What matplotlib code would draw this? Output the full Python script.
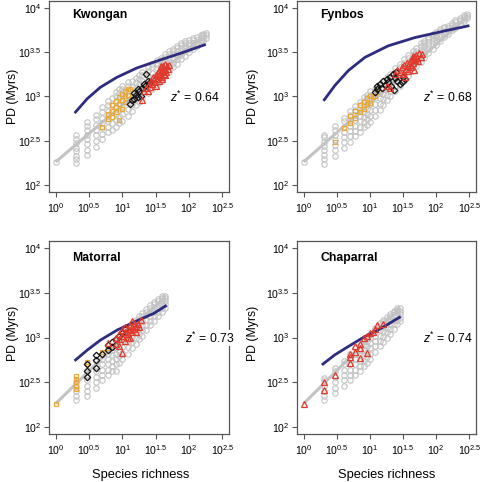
import numpy as np
import matplotlib.pyplot as plt

plt.rcParams['font.family'] = ['Liberation Sans', 'DejaVu Sans']
plt.rcParams['mathtext.fontset'] = 'custom'
plt.rcParams['mathtext.rm'] = 'Liberation Sans'
plt.rcParams['mathtext.it'] = 'Liberation Sans:italic'

# all PD values are log10(PD in Myrs)

# ---- Kwongan
kw_gray_s = [1, 2, 3, 4, 5, 6, 7, 8, 9, 10, 12, 14, 16, 18, 20, 24, 28, 33, 38, 44,
             50, 58, 66, 76, 88, 100, 115, 130, 150, 165, 178]
kw_gray_pd = [[2.26],
              [2.25, 2.29, 2.33, 2.38, 2.42, 2.47, 2.52, 2.56],
              [2.34, 2.40, 2.46, 2.52, 2.57, 2.62, 2.67, 2.71],
              [2.43, 2.50, 2.56, 2.62, 2.68, 2.74, 2.79],
              [2.52, 2.58, 2.64, 2.70, 2.76, 2.82, 2.88],
              [2.60, 2.66, 2.72, 2.78, 2.84, 2.90, 2.95],
              [2.62, 2.70, 2.77, 2.84, 2.91, 2.98],
              [2.66, 2.73, 2.80, 2.87, 2.94, 3.00, 3.05],
              [2.70, 2.78, 2.85, 2.92, 2.98, 3.04, 3.08],
              [2.72, 2.80, 2.88, 2.95, 3.02, 3.08, 3.12],
              [2.78, 2.86, 2.93, 3.00, 3.06, 3.12, 3.16],
              [2.84, 2.92, 2.99, 3.05, 3.11, 3.17],
              [2.90, 2.97, 3.04, 3.10, 3.16, 3.21],
              [2.94, 3.01, 3.08, 3.14, 3.20, 3.24],
              [2.98, 3.05, 3.12, 3.18, 3.24, 3.28],
              [3.04, 3.11, 3.17, 3.23, 3.29, 3.33],
              [3.08, 3.15, 3.21, 3.27, 3.33, 3.37],
              [3.13, 3.20, 3.26, 3.32, 3.37, 3.41],
              [3.18, 3.24, 3.30, 3.36, 3.41, 3.44],
              [3.24, 3.30, 3.35, 3.40, 3.45, 3.48],
              [3.28, 3.34, 3.39, 3.44, 3.48, 3.51],
              [3.33, 3.38, 3.43, 3.48, 3.52, 3.54],
              [3.37, 3.42, 3.47, 3.51, 3.55, 3.57],
              [3.42, 3.47, 3.51, 3.55, 3.58, 3.60],
              [3.46, 3.51, 3.55, 3.58, 3.61, 3.63],
              [3.50, 3.54, 3.58, 3.61, 3.64],
              [3.54, 3.58, 3.61, 3.64, 3.66],
              [3.57, 3.61, 3.64, 3.67],
              [3.61, 3.64, 3.67, 3.69],
              [3.63, 3.66, 3.69, 3.71],
              [3.66, 3.69, 3.72]]
kw_trend_s = [1, 170]
kw_trend_pd = [2.26, 3.69]
kw_curve_logs = [0.298, 0.472, 0.670, 0.918, 1.216, 1.562, 1.909, 2.232]
kw_curve_pd = [2.824, 2.974, 3.104, 3.217, 3.322, 3.412, 3.498, 3.584]
kw_sq_s = [5, 6, 6, 7, 7, 7, 8, 8, 8, 9, 9, 9, 10, 10, 10, 11, 11, 11, 12, 12, 13]
kw_sq_pd = [2.66, 2.74, 2.80, 2.77, 2.84, 2.90, 2.82, 2.88, 2.95, 2.73, 2.92, 2.99,
            2.86, 2.96, 3.03, 2.94, 3.00, 3.06, 3.02, 3.08, 3.09]
kw_di_s = [13, 14, 15, 15, 16, 17, 17, 18, 19, 20, 21, 22, 23, 24, 26]
kw_di_pd = [2.92, 2.96, 2.97, 3.04, 3.02, 3.09, 2.99, 3.06, 3.01, 3.10, 3.14, 3.12,
            3.25, 3.18, 3.16]
kw_tr_s = [20, 21, 23, 24, 25, 26, 27, 28, 30, 31, 32, 33, 34, 35, 36, 37, 38, 39, 40,
           41, 42, 43, 44, 45, 46, 48, 50, 32, 36, 40, 44, 38, 42, 29]
kw_tr_pd = [2.96, 3.06, 3.10, 3.06, 3.14, 3.11, 3.18, 3.14, 3.20, 3.16, 3.24, 3.20,
            3.27, 3.23, 3.30, 3.26, 3.33, 3.22, 3.29, 3.35, 3.25, 3.31, 3.37, 3.28,
            3.34, 3.31, 3.36, 3.12, 3.17, 3.20, 3.24, 3.35, 3.30, 3.22]

# ---- Fynbos
fy_gray_s = [1, 2, 3, 4, 5, 6, 7, 8, 9, 10, 12, 14, 16, 18, 20, 24, 28, 33, 38, 44,
             50, 58, 66, 76, 88, 100, 115, 130, 150, 170, 195, 225, 260, 295]
fy_gray_pd = [[2.26],
              [2.24, 2.29, 2.34, 2.39, 2.44, 2.49, 2.54, 2.57],
              [2.33, 2.39, 2.45, 2.51, 2.57, 2.62, 2.67],
              [2.42, 2.48, 2.54, 2.60, 2.66, 2.72, 2.76],
              [2.49, 2.55, 2.61, 2.67, 2.73, 2.79, 2.84],
              [2.55, 2.61, 2.67, 2.73, 2.79, 2.85, 2.89],
              [2.60, 2.66, 2.72, 2.78, 2.84, 2.90, 2.94],
              [2.65, 2.71, 2.77, 2.83, 2.89, 2.95, 2.99],
              [2.68, 2.74, 2.80, 2.86, 2.92, 2.98, 3.02],
              [2.71, 2.78, 2.85, 2.91, 2.97, 3.02, 3.06],
              [2.78, 2.85, 2.92, 2.98, 3.04, 3.09],
              [2.85, 2.92, 2.98, 3.04, 3.09, 3.14],
              [2.90, 2.97, 3.03, 3.09, 3.14, 3.18],
              [2.96, 3.02, 3.08, 3.13, 3.18, 3.22],
              [3.00, 3.06, 3.12, 3.17, 3.22, 3.26],
              [3.06, 3.12, 3.18, 3.23, 3.28, 3.32],
              [3.12, 3.18, 3.23, 3.28, 3.33, 3.37],
              [3.18, 3.24, 3.29, 3.34, 3.38, 3.42],
              [3.23, 3.29, 3.34, 3.39, 3.43, 3.47],
              [3.29, 3.35, 3.40, 3.44, 3.48, 3.51],
              [3.34, 3.39, 3.44, 3.48, 3.52, 3.55],
              [3.39, 3.44, 3.49, 3.53, 3.57, 3.60],
              [3.44, 3.49, 3.53, 3.57, 3.61, 3.63],
              [3.49, 3.54, 3.58, 3.62, 3.65, 3.67],
              [3.54, 3.59, 3.63, 3.66, 3.69, 3.71],
              [3.58, 3.63, 3.67, 3.70, 3.73],
              [3.63, 3.67, 3.71, 3.74, 3.76],
              [3.67, 3.71, 3.74, 3.77, 3.79],
              [3.71, 3.75, 3.78, 3.80],
              [3.75, 3.78, 3.81, 3.83],
              [3.78, 3.81, 3.84, 3.86],
              [3.82, 3.85, 3.87, 3.89],
              [3.85, 3.88, 3.90, 3.92],
              [3.89, 3.91, 3.93]]
fy_trend_s = [1, 295]
fy_trend_pd = [2.26, 3.90]
fy_curve_logs = [0.312, 0.471, 0.673, 0.923, 1.276, 1.676, 2.128, 2.48]
fy_curve_pd = [2.963, 3.124, 3.292, 3.442, 3.573, 3.666, 3.742, 3.798]
fy_sq_s = [3, 4, 5, 5, 6, 6, 7, 7, 8, 8, 9, 9, 10, 10, 11, 12, 13]
fy_sq_pd = [2.49, 2.64, 2.70, 2.78, 2.76, 2.84, 2.82, 2.90, 2.86, 2.94, 2.92, 2.98,
            2.93, 3.01, 2.99, 3.00, 3.05]
fy_di_s = [12, 13, 13, 14, 15, 16, 17, 18, 19, 20, 21, 22, 24, 26, 28, 30, 25, 23, 32, 34]
fy_di_pd = [3.05, 3.08, 3.12, 3.14, 3.10, 3.17, 3.13, 3.20, 3.16, 3.22, 3.12, 3.25,
            3.21, 3.18, 3.14, 3.16, 3.28, 3.07, 3.22, 3.20]
fy_tr_s = [18, 20, 24, 26, 28, 30, 31, 33, 35, 36, 38, 40, 41, 43, 45, 46, 48, 50, 52,
           55, 58, 60, 34, 38, 42, 47, 53, 44]
fy_tr_pd = [3.12, 3.10, 3.26, 3.30, 3.28, 3.33, 3.26, 3.36, 3.31, 3.38, 3.34, 3.40,
            3.36, 3.42, 3.38, 3.45, 3.41, 3.47, 3.43, 3.49, 3.45, 3.48, 3.22, 3.29,
            3.33, 3.30, 3.40, 3.46]

# ---- Matorral
ma_gray_s = [2, 3, 4, 5, 6, 7, 8, 9, 10, 12, 14, 16, 18, 20, 23, 26, 30, 34, 39, 44]
ma_gray_pd = [[2.30, 2.35, 2.40, 2.45, 2.50],
              [2.34, 2.40, 2.46, 2.52, 2.58, 2.64],
              [2.44, 2.50, 2.56, 2.62, 2.68, 2.74],
              [2.52, 2.58, 2.64, 2.70, 2.76, 2.81],
              [2.58, 2.64, 2.70, 2.76, 2.82, 2.87],
              [2.62, 2.68, 2.74, 2.80, 2.86, 2.91],
              [2.62, 2.70, 2.76, 2.82, 2.88, 2.94, 2.98],
              [2.72, 2.79, 2.85, 2.91, 2.97, 3.01],
              [2.76, 2.83, 2.89, 2.95, 3.01, 3.05],
              [2.82, 2.89, 2.95, 3.01, 3.07, 3.11],
              [2.88, 2.95, 3.01, 3.07, 3.12, 3.16],
              [2.93, 3.00, 3.06, 3.12, 3.17, 3.20],
              [2.98, 3.04, 3.10, 3.16, 3.21, 3.24],
              [3.02, 3.08, 3.14, 3.19, 3.24, 3.27],
              [3.08, 3.14, 3.20, 3.25, 3.29, 3.32],
              [3.14, 3.19, 3.24, 3.29, 3.33, 3.36],
              [3.19, 3.24, 3.29, 3.33, 3.37, 3.40],
              [3.24, 3.29, 3.33, 3.37, 3.41, 3.43],
              [3.29, 3.33, 3.37, 3.41, 3.44, 3.46],
              [3.33, 3.37, 3.41, 3.44, 3.47]]
ma_trend_s = [1, 44]
ma_trend_pd = [2.26, 3.46]
ma_curve_logs = [0.299, 0.475, 0.674, 0.924, 1.223, 1.472, 1.647]
ma_curve_pd = [2.749, 2.860, 2.972, 3.084, 3.188, 3.270, 3.352]
ma_sq_s = [1, 2, 2, 2, 2, 2, 3, 3, 5, 6]
ma_sq_pd = [2.26, 2.42, 2.46, 2.50, 2.54, 2.57, 2.70, 2.73, 2.84, 2.88]
ma_di_s = [3, 3, 3, 4, 4, 4, 5, 6, 6, 7, 7, 8, 9, 10, 11]
ma_di_pd = [2.56, 2.63, 2.70, 2.66, 2.75, 2.80, 2.82, 2.86, 2.92, 2.89, 2.95, 2.98,
            3.02, 3.05, 3.10]
ma_tr_s = [6, 8, 8, 9, 9, 10, 10, 10, 11, 11, 12, 12, 13, 13, 14, 14, 15, 15, 16, 17,
           18, 19, 11, 12, 9, 13, 16, 14]
ma_tr_pd = [2.94, 2.93, 3.00, 2.98, 3.04, 2.83, 3.02, 3.08, 3.06, 3.12, 3.04, 3.10,
            3.08, 3.14, 3.06, 3.12, 3.10, 3.16, 3.13, 3.15, 3.12, 3.20, 2.96, 3.00,
            2.90, 3.00, 3.06, 3.18]

# ---- Chaparral
ch_gray_s = [2, 3, 4, 5, 6, 7, 8, 9, 10, 12, 14, 16, 18, 20, 23, 26, 28]
ch_gray_pd = [[2.30, 2.34, 2.40, 2.46, 2.52, 2.55],
              [2.38, 2.44, 2.50, 2.56, 2.62, 2.66],
              [2.46, 2.52, 2.58, 2.64, 2.70, 2.74],
              [2.52, 2.58, 2.64, 2.70, 2.76, 2.82],
              [2.58, 2.64, 2.70, 2.76, 2.82, 2.88],
              [2.62, 2.68, 2.74, 2.80, 2.86, 2.92],
              [2.68, 2.74, 2.80, 2.86, 2.92, 2.96],
              [2.72, 2.78, 2.84, 2.90, 2.96, 3.00],
              [2.76, 2.82, 2.88, 2.94, 3.00, 3.04],
              [2.84, 2.90, 2.96, 3.02, 3.08, 3.11],
              [2.90, 2.96, 3.02, 3.08, 3.13, 3.16],
              [2.95, 3.01, 3.07, 3.12, 3.17, 3.20],
              [3.00, 3.06, 3.11, 3.16, 3.20, 3.23],
              [3.04, 3.10, 3.15, 3.20, 3.24, 3.26],
              [3.10, 3.15, 3.20, 3.24, 3.28, 3.30],
              [3.15, 3.20, 3.24, 3.28, 3.31, 3.33],
              [3.18, 3.22, 3.26, 3.30, 3.33]]
ch_trend_s = [1, 28]
ch_trend_pd = [2.26, 3.33]
ch_curve_logs = [0.292, 0.467, 0.669, 0.919, 1.170, 1.446]
ch_curve_pd = [2.703, 2.804, 2.897, 3.009, 3.103, 3.226]
ch_tr_s = [1, 2, 2, 3, 5, 5, 5, 6, 6, 7, 7, 7, 8, 9, 9, 10, 11, 12, 13, 16]
ch_tr_pd = [2.26, 2.50, 2.41, 2.58, 2.82, 2.78, 2.71, 2.90, 2.84, 2.93, 2.88, 2.77,
            2.99, 2.83, 3.02, 3.05, 3.06, 3.10, 3.14, 3.15]

GRAY = '#c3c3c3'
NAVY = '#2e2c7e'
ORANGE = '#e9a83a'
RED = '#e2392d'


def draw_panel(ax, name, z, gray_s, gray_pd, trend_s, trend_pd, curve_logs, curve_pd,
               sq=None, di=None, tr=None, ztext_x=0.95, name_y=0.925):
    gs = [s for s, col in zip(gray_s, gray_pd) for _ in col]
    gp = [10 ** v for col in gray_pd for v in col]
    ax.plot(gs, gp, 'o', mfc='none', mec=GRAY, ms=3.9, mew=0.8, zorder=1)
    ax.plot(trend_s, 10 ** np.array(trend_pd), color=GRAY, lw=2.2, zorder=2,
            solid_capstyle='butt')
    ax.plot(10 ** np.array(curve_logs), 10 ** np.array(curve_pd), color=NAVY, lw=2.0,
            zorder=3, solid_joinstyle='round')
    if sq is not None:
        ax.plot(sq[0], 10 ** np.array(sq[1]), 's', mfc='none', mec=ORANGE, ms=3.5,
                mew=0.9, zorder=4)
    if di is not None:
        ax.plot(di[0], 10 ** np.array(di[1]), 'D', mfc='none', mec='#111111', ms=3.3,
                mew=0.9, zorder=5)
    if tr is not None:
        ax.plot(tr[0], 10 ** np.array(tr[1]), '^', mfc='none', mec=RED, ms=4.6,
                mew=0.9, zorder=6)

    ax.set_xscale('log')
    ax.set_yscale('log')
    ax.set_xlim(10 ** -0.1, 10 ** 2.6)
    ax.set_ylim(10 ** 1.92, 10 ** 4.08)
    xt = [0, 0.5, 1, 1.5, 2, 2.5]
    yt = [2, 2.5, 3, 3.5, 4]
    ax.set_xticks([10 ** v for v in xt])
    ax.set_xticklabels(['$10^{%g}$' % v for v in xt])
    ax.set_yticks([10 ** v for v in yt])
    ax.set_yticklabels(['$10^{%g}$' % v for v in yt])
    ax.minorticks_off()
    ax.tick_params(length=3.5, width=0.8, color='#555555', labelsize=7.6, pad=2)
    ax.tick_params(axis='x', pad=3)
    for sp in ax.spines.values():
        sp.set_color('#555555')
        sp.set_linewidth(0.9)
    ax.text(0.13, name_y, name, transform=ax.transAxes, fontsize=8.8,
            fontweight='bold', va='center', ha='left')
    ax.text(ztext_x, 0.497, r'$\mathit{z}^{*}$ = ' + z, transform=ax.transAxes,
            fontsize=8.8, va='center', ha='right', clip_on=False, zorder=10,
            bbox=dict(facecolor='white', edgecolor='none', pad=0.5))


fig = plt.figure(figsize=(4.8, 4.82), dpi=100)
W, H = 480.0, 482.0
ax1 = fig.add_axes([49 / W, 1 - 192 / H, 180 / W, 191 / H])
ax2 = fig.add_axes([297 / W, 1 - 192 / H, 179 / W, 191 / H])
ax3 = fig.add_axes([49 / W, 1 - 434 / H, 180 / W, 193 / H])
ax4 = fig.add_axes([297 / W, 1 - 434 / H, 179 / W, 193 / H])

draw_panel(ax1, 'Kwongan', '0.64', kw_gray_s, kw_gray_pd, kw_trend_s, kw_trend_pd,
           kw_curve_logs, kw_curve_pd, (kw_sq_s, kw_sq_pd), (kw_di_s, kw_di_pd),
           (kw_tr_s, kw_tr_pd), ztext_x=0.95)
draw_panel(ax2, 'Fynbos', '0.68', fy_gray_s, fy_gray_pd, fy_trend_s, fy_trend_pd,
           fy_curve_logs, fy_curve_pd, (fy_sq_s, fy_sq_pd), (fy_di_s, fy_di_pd),
           (fy_tr_s, fy_tr_pd), ztext_x=0.983)
draw_panel(ax3, 'Matorral', '0.73', ma_gray_s, ma_gray_pd, ma_trend_s, ma_trend_pd,
           ma_curve_logs, ma_curve_pd, (ma_sq_s, ma_sq_pd), (ma_di_s, ma_di_pd),
           (ma_tr_s, ma_tr_pd), ztext_x=1.033, name_y=0.91)
draw_panel(ax4, 'Chaparral', '0.74', ch_gray_s, ch_gray_pd, ch_trend_s, ch_trend_pd,
           ch_curve_logs, ch_curve_pd, None, None, (ch_tr_s, ch_tr_pd),
           ztext_x=0.983, name_y=0.91)

for x, y in [(13, 96), (253, 96), (13, 333), (253, 333)]:
    fig.text(x / W, 1 - y / H, 'PD (Myrs)', rotation=90, ha='center', va='center',
             fontsize=8.8)
for x in [141, 387]:
    fig.text(x / W, 1 - 475 / H, 'Species richness', ha='center', va='center',
             fontsize=9.3)

fig.savefig('out.png', dpi=100)
